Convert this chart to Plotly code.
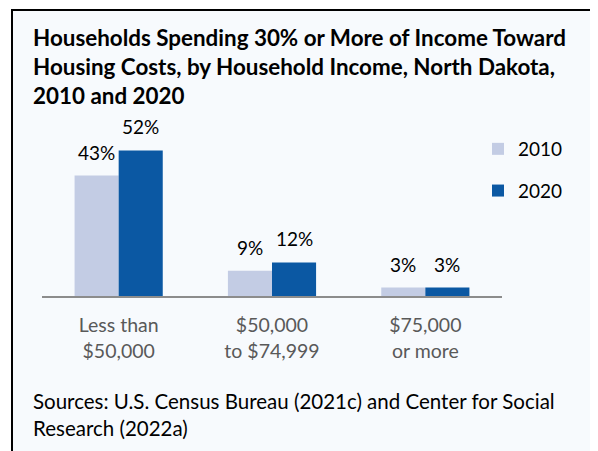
import plotly.graph_objects as go

categories = ["Less than<br>$50,000", "$50,000<br>to $74,999", "$75,000<br>or more"]
years = ["2010", "2020"]
values_2010 = [43, 9, 3]
values_2020 = [52, 12, 3]

color_2010 = "#C3CCE4"
color_2020 = "#0B58A3"
bg = "#F7FAFD"
font_family = "Lato"

# the page body has an 8px margin, so the figure is drawn 8px smaller
OFF = 8
W, H = 598 - OFF, 451 - OFF
ML, MR, MT, MB = 42 - OFF, 96, 128 - OFF, 155
PW, PH = W - ML - MR, H - MT - MB
BARGAP = 0.425
HALF_BAR = PW / len(categories) * (1 - BARGAP) / 4


# page pixel -> paper coords
def px(x):
    return (x - OFF - ML) / PW


def py(y):
    return (H - MB - (y - OFF)) / PH


fig = go.Figure()
labels = []
series = [(years[0], values_2010, color_2010, -HALF_BAR), (years[1], values_2020, color_2020, HALF_BAR)]
for name, vals, col, shift in series:
    fig.add_trace(
        go.Bar(
            x=categories,
            y=vals,
            name=name,
            legendgroup=name,
            marker=dict(color=col, line=dict(width=0)),
        )
    )
    # value labels sit a little higher above the bars than plotly's own outside text
    for cat, v in zip(categories, vals):
        labels.append(dict(
            x=cat, y=v, xref="x", yref="y", text=f"{v}%",
            xshift=shift, yshift=10, yanchor="bottom", showarrow=False,
            font=dict(size=19, color="#000000"),
        ))

fig.update_layout(
    width=W,
    height=H,
    margin=dict(l=ML, r=MR, t=MT, b=MB),
    paper_bgcolor="white",
    plot_bgcolor="rgba(0,0,0,0)",
    font=dict(family=font_family, color="#000000"),
    barmode="group",
    bargap=BARGAP,
    bargroupgap=0,
    showlegend=True,
    legend=dict(
        x=px(478),
        y=py(130),
        xanchor="left",
        yanchor="top",
        font=dict(size=19),
        bgcolor="rgba(0,0,0,0)",
        tracegroupgap=14,
        itemwidth=30,
    ),
    shapes=[
        dict(
            type="rect", xref="paper", yref="paper",
            x0=px(12), x1=px(640), y0=py(10), y1=py(480),
            fillcolor=bg, line=dict(color="#000000", width=2), layer="below",
        )
    ],
    annotations=[
        dict(
            text="<b>Households Spending 30% or More of Income Toward<br>"
                 "Housing Costs, by Household Income, North Dakota,<br>"
                 "2010 and 2020</b>",
            xref="paper", yref="paper", x=px(31), y=py(22),
            xanchor="left", yanchor="top", align="left", showarrow=False,
            font=dict(size=22.4, color="#000000"),
        ),
        dict(
            text="Sources: U.S. Census Bureau (2021c) and Center for Social<br>Research (2022a)",
            xref="paper", yref="paper", x=px(31), y=py(387),
            xanchor="left", yanchor="top", align="left", showarrow=False,
            font=dict(size=20.5, color="#000000"),
        ),
    ] + labels,
)

fig.update_xaxes(
    showline=True, linecolor="#8C8C8C", linewidth=2,
    showgrid=False, ticks="", ticklabelstandoff=11,
    tickfont=dict(size=19.5, color="#595959"),
)
fig.update_yaxes(range=[0, 60], visible=False, showgrid=False)

fig.write_html("out.html")
